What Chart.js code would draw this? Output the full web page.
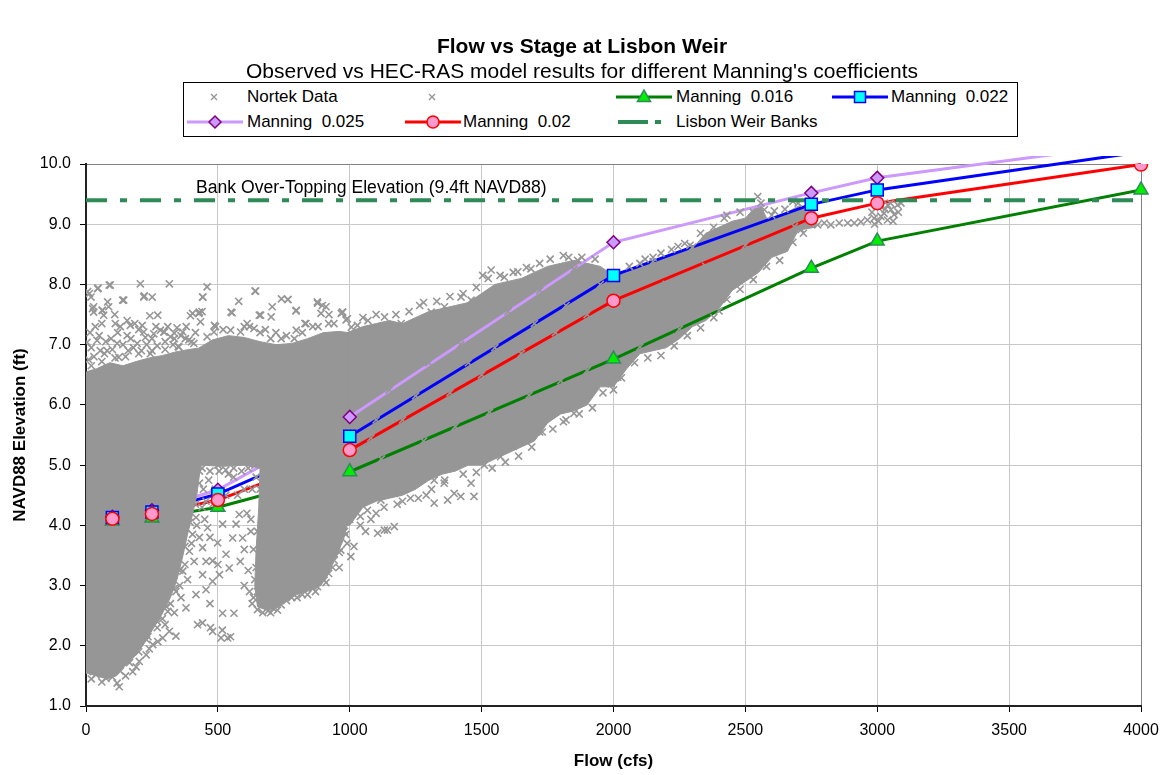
<!DOCTYPE html>
<html lang="en">
<head>
  <meta charset="UTF-8">
  <title>Flow vs Stage at Lisbon Weir</title>
  <style>
    body { margin: 0; background: #fff; font-family: "Liberation Sans", Arial, sans-serif; }
    #wrap { position: relative; width: 1164px; height: 775px; }
    #legend { position: absolute; left: 183px; top: 82px; width: 835px; height: 55px;
              border: 1px solid #000; box-sizing: border-box; background: #fff; }
    #legend svg { position: absolute; left: -1px; top: -1px; }
    #legend span { position: absolute; font-size: 17px; line-height: 20px; white-space: pre; color: #000; }
  </style>
</head>
<body>
<div id="wrap">
  <canvas id="myChart" width="1164" height="775"></canvas>
  <div id="legend"></div>
</div>

<script src="https://cdn.jsdelivr.net/npm/chart.js"></script>

<script>
  // HEC-RAS results, stage (ft NAVD88) at each modelled flow (cfs)
  const flowCfs    = [100, 250, 500, 1000, 2000, 2750, 3000, 4000];
  const manning016 = [4.07, 4.12, 4.30, 4.89, 6.76, 8.27, 8.72, 9.57];
  const manning020 = [4.11, 4.19, 4.42, 5.25, 7.73, 9.10, 9.35, 9.99];
  const manning022 = [4.13, 4.22, 4.52, 5.48, 8.15, 9.33, 9.57, 10.20];
  const manning025 = [4.14, 4.25, 4.59, 5.80, 8.70, 9.52, 9.77, 10.35];

  const bankElevation = 9.4;
  const bankLabel = 'Bank Over-Topping Elevation (9.4ft NAVD88)';
  const bankLabelAt = [417, 9.6];

  // Nortek observations: outlines of the solid parts of the cloud [flow, stage]
  const nortekLeftCore = [
    [2,1.55],[2,6.55],[40,6.6],[90,6.7],[140,6.65],[190,6.72],[240,6.78],[290,6.82],[340,6.88],[390,6.92],[440,6.95],
    [450,6.3],[445,5.6],[435,5.0],[420,4.5],[405,4.2],[385,3.85],[365,3.45],[345,3.1],[320,2.8],[285,2.5],[250,2.25],
    [215,2.0],[180,1.8],[145,1.65],[115,1.5],[80,1.45],[40,1.5],[2,1.55]
  ];
  const nortekMidCore = [
    [430,5.0],[430,6.95],[480,7.08],[540,7.15],[600,7.12],[660,7.05],[720,7.0],[780,7.02],[840,7.1],[900,7.2],[960,7.22],[995,7.2],
    [995,5.0],[990,4.0],[975,3.75],[950,3.5],[920,3.2],[890,3.0],[850,2.92],[800,2.85],[760,2.75],[720,2.62],[680,2.6],[650,2.65],
    [640,3.0],[645,3.6],[655,4.3],[660,4.95],[600,5.0],[520,4.98],[430,5.0]
  ];
  const nortekBandCore = [
    [990,4.0],[990,7.2],[1050,7.3],[1100,7.35],[1150,7.4],[1200,7.35],[1250,7.45],[1300,7.55],[1350,7.6],[1400,7.65],[1450,7.7],
    [1500,7.85],[1550,8.0],[1600,8.05],[1650,8.1],[1700,8.2],[1750,8.3],[1800,8.35],[1850,8.4],[1900,8.35],[1950,8.3],[2000,8.15],
    [2050,8.2],[2100,8.3],[2150,8.4],[2200,8.45],[2250,8.55],[2300,8.6],[2350,8.85],[2400,8.95],[2450,9.05],[2500,9.1],[2540,9.3],
    [2560,9.3],[2580,9.1],[2620,9.1],[2660,9.2],[2700,9.3],[2740,9.3],[2765,9.1],
    [2765,8.95],[2700,8.9],[2660,8.55],[2600,8.45],[2550,8.2],[2500,8.05],[2450,7.9],[2400,7.6],[2350,7.4],[2300,7.3],[2250,7.1],
    [2200,6.95],[2150,6.9],[2100,6.85],[2050,6.6],[2000,6.3],[1950,6.3],[1900,6.0],[1850,5.9],[1800,5.85],[1750,5.7],[1700,5.4],
    [1650,5.3],[1600,5.2],[1550,5.1],[1500,5.0],[1450,5.0],[1400,4.9],[1350,4.85],[1300,4.75],[1250,4.6],[1200,4.5],[1150,4.45],
    [1100,4.4],[1050,4.3],[1000,4.0],[990,4.0]
  ];

  // Nortek observations: individual readings around the edges [flow, stage]
  const nortekLowFringe = [
    [6,7.88],[19,7.79],[46,7.94],[29,7.63],[29,7.54],[61,7.57],[67,7.49],[82,7.71],[86,7.63],[92,7.99],[109,7.5],[111,7.35],
    [143,7.74],[156,7.4],[168,7.32],[206,8.01],[219,7.79],[251,7.79],[242,7.48],[213,7.32],[219,7.21],[316,8.01],[335,7.19],
    [295,7.21],[396,7.48],[428,7.52],[434,7.38],[13,7.85],[44,7.93],[88,7.99],[25,7.6],[63,7.57],[139,7.74],[221,7.81],[272,7.49],
    [297,7.21],[367,7.21],[335,7.1],[404,7.52],[430,7.54],[442,7.79],
    [4,7.04],[42,7.07],[54,6.9],[80,6.9],[118,7.02],[156,7.15],[124,6.79],[194,7.02],[244,6.85],[257,7.18],[282,7.24],[320,7.13],
    [352,6.96],[377,7.1],[409,7.02],[10,6.75],[30,6.8],[70,6.85],[100,6.92],[160,6.9],[180,6.95],[210,6.9],[270,6.98],[300,7.05],
    [230,7.0],[140,7.0],[20,6.95],[330,7.0],[390,7.08],[360,7.15],[95,7.1],[50,7.15],[120,7.2],[250,7.1],[310,7.3],[200,7.25],
    [15,7.2],[35,7.3],[75,7.05],[130,7.3],[170,7.1],[185,7.35],[225,7.12],[265,7.3],[345,7.28],[380,7.3],[415,7.2],[60,7.35],
    [20,6.65],[60,6.72],[110,6.78],[150,6.8],[200,6.85],[250,6.9],[300,6.92],[350,6.97],[400,7.05],
    [6,1.57],[38,1.52],[76,1.46],[126,1.32],[118,1.38],[177,1.57],[202,1.74],[228,1.85],[253,2.02],[272,2.07],[291,2.13],
    [316,2.24],[341,2.16],[310,2.57],[341,2.9],[367,3.24],[392,3.57],[379,3.96],[404,3.85],[417,4.13],[379,2.63],[417,2.85],
    [423,2.35],[442,2.38],[150,1.5],[60,1.4],[95,1.55],[20,1.45],[190,1.65],[240,1.95],[270,2.3],[290,2.45],[320,2.7],[355,3.0],
    [375,3.35],[400,3.7],[420,4.0],[440,4.3],[300,2.35],[335,2.55],[360,2.8],[385,3.1],[410,3.4],[430,3.8],[445,4.6],[230,2.1],
    [440,5.2],[445,5.8],[430,4.7],[415,4.35],[395,4.05],[375,3.65],[355,3.25],[335,2.95],[305,2.65],[270,2.4],[235,2.15],
    [200,1.9],[165,1.72],[130,1.58],[100,1.48]
  ];
  const nortekGapFringe = [
    [455,2.93],[480,3.07],[506,3.18],[442,3.18],[543,3.29],[480,3.41],[531,3.52],[442,3.63],[499,3.71],[556,3.79],[461,3.96],
    [518,4.02],[569,4.02],[594,3.79],[581,4.18],[480,2.24],[512,2.13],[537,2.13],[518,2.54],[472,2.3],[548,2.15],[561,2.54],
    [517,2.26],[455,4.4],[490,4.6],[530,4.5],[560,4.8],[430,4.9],[600,4.6],[610,4.2],[585,3.4],[600,3.0],[620,2.9],[640,5.0],
    [630,4.6],[600,3.6],[615,3.25],[465,4.75],[505,4.9],[540,4.85],[575,4.5],[455,3.4],[500,3.35],[470,3.8],[450,4.1],
    [480,4.35],[625,3.9],[630,2.7],[470,2.7],
    [440,4.95],[470,4.9],[500,5.0],[530,4.92],[560,4.95],[590,4.9],[615,4.95],[645,4.8]
  ];
  const nortekMidFringe = [
    [459,7.96],[443,7.79],[440,7.55],[491,7.3],[554,7.53],[579,7.72],[643,7.89],[662,7.49],[706,7.63],[741,7.76],[766,7.75],
    [797,7.57],[797,7.24],[830,7.35],[877,7.71],[896,7.65],[921,7.5],[972,7.54],[991,7.43],[1029,7.32],[1067,7.24],[1124,7.24],
    [1149,7.29],[459,7.13],[485,7.21],[548,7.24],[586,7.21],[611,7.35],[637,7.27],[487,7.32],[550,7.54],[641,7.89],[657,7.49],
    [702,7.46],[765,7.75],[796,7.56],[834,7.35],[878,7.69],[891,7.52],[910,7.63],[973,7.54],[986,7.41],[1074,7.24],[1119,7.21],
    [680,7.25],[720,7.2],[760,7.15],[860,7.3],[940,7.35],[620,7.3],[700,7.1],[820,7.2],[520,7.25],[600,7.3],[660,7.2],[740,7.1],
    [790,7.1],[880,7.3],[920,7.35],
    [726,2.59],[688,2.73],[878,2.98],[903,3.09],[941,3.42],[966,3.59],[650,2.6],[670,2.55],[710,2.62],[760,2.75],[800,2.8],
    [840,2.85],[920,3.2],[990,3.7],[1004,3.48],[1016,3.65],[941,3.53],[890,3.26],[980,3.9],[1000,4.1],[1106,3.87],[1131,3.92],
    [1169,3.98],[1143,3.92],[1067,4.25],[1118,4.42],[1168,4.53],[1040,4.0],[1080,4.1],[640,3.1],[635,3.6],[625,4.1],[700,2.55],
    [780,2.8],[860,2.95],[960,3.3],[1060,3.9],[1100,4.2],[1200,4.4],
    [650,2.9],[645,3.3],[650,3.9],[660,4.6],[635,2.8],[690,2.58],[740,2.68],[820,2.85],[870,2.9],[910,3.05],[935,3.3],
    [960,3.55],[985,3.85]
  ];
  const nortekBandFringe = [
    [1230,4.45],[1290,4.5],[1320,4.75],[1358,4.7],[1396,4.53],[1320,4.37],[1371,4.42],[1421,4.48],[1471,4.48],[1460,4.7],
    [1510,5.0],[1497,5.45],[1530,5.3],[1572,5.14],[1600,5.5],[1620,5.31],[1650,5.45],[1674,5.64],[1720,5.55],[1787,6.08],
    [1850,5.86],[1820,5.75],[1884,6.24],[1953,6.4],[1991,6.35],[2016,6.46],[1960,6.2],[2000,6.25],
    [968,7.52],[1006,7.29],[1069,7.4],[1132,7.46],[1195,7.35],[1265,7.65],[1309,7.54],[1359,7.63],[1422,7.79],[1460,7.74],
    [1504,8.15],[1536,8.24],[1586,8.12],[1637,8.21],[1687,8.26],[1788,8.26],[1864,8.4],[1830,8.45],[2100,8.35],[2150,8.45],
    [2245,8.63],[2290,8.65],[2380,8.95],[2420,9.1],[2547,9.46],[2559,9.35],[2572,9.24],[2530,9.2],[2600,9.15],[2650,9.25],
    [1050,7.45],[1100,7.5],[1175,7.5],[1225,7.55],[1280,7.7],[1330,7.72],[1380,7.8],[1430,7.85],[1480,7.95],[1525,8.1],
    [1570,8.15],[1620,8.2],[1670,8.28],[1720,8.35],[1760,8.42],[1810,8.48],[1880,8.45],[1930,8.42],[2060,8.3],[2120,8.42],
    [2180,8.52],[2220,8.58],[2270,8.68],[2330,8.85],[2430,9.15],[2480,9.2],[2610,9.22],[2680,9.38],
    [1040,4.15],[1130,4.3],[1180,4.35],[1260,4.45],[1310,4.6],[1360,4.75],[1430,4.85],[1480,4.88],[1540,4.95],[1590,5.05],
    [1640,5.15],[1690,5.3],[1730,5.55],[1770,5.6],[1810,5.72],[1870,5.85],[1920,5.95],[2030,6.45],[2080,6.7],[2130,6.78],
    [2180,6.82],[2230,6.98],[2280,7.15],[2330,7.28],[2380,7.45],[2430,7.75],[2480,7.92],[2530,8.08],[2580,8.3],[2630,8.4],
    [2680,8.7],[2720,8.85]
  ];
  // readings inside the band that sit over the model lines
  const nortekBandInside = [
    [1150,6.25],[1300,6.7],[1420,7.0],[1600,7.55],[1720,7.9],[1850,8.25],
    [1100,5.75],[1250,6.15],[1450,6.7],[1550,6.95],[1700,7.35],[1820,7.65],[1950,8.0],
    [1080,5.45],[1200,5.75],[1380,6.2],[1500,6.5],[1650,6.85],[1780,7.2],[1900,7.5],
    [1120,5.1],[1280,5.4],[1400,5.64],[1530,5.88],[1680,6.16],[1800,6.4],[1900,6.57],
    [2150,8.38],[2300,8.62],[2200,8.0],[2350,8.3],[2500,8.65],[2100,6.96],[2250,7.26],[2400,7.56]
  ];
  const nortekRightFringe = [
    [2686,8.96],[2711,8.91],[2749,9.02],[2774,8.99],[2799,9.02],[2824,8.99],[2856,9.02],[2888,9.02],[2913,9.02],[2938,9.04],
    [2963,9.07],[2988,9.1],[3014,9.13],[3014,9.29],[3026,9.18],[3039,9.07],[3052,9.24],[3064,9.16],[3077,9.32],[3090,9.35],
    [2700,9.35],[2740,9.3],[2760,9.2],[2980,9.2],[3000,9.3],[3050,9.35],[3030,9.25],[3060,9.05],[3005,9.05],[3080,9.2],
    [2990,9.0],[3040,9.32]
  ];

  const gray = '#969696';
  const fontFamily = '"Liberation Sans", Arial, sans-serif';
  Chart.defaults.font.family = fontFamily;
  Chart.defaults.color = '#000';

  const style016 = { line: '#008000', fill: '#00ee00', edge: '#2e8b57', point: 'triangle', r: 8 };
  const style020 = { line: '#ff0000', fill: '#ff99cc', edge: '#ff0000', point: 'circle', r: 6.5 };
  const style022 = { line: '#0000ff', fill: '#00ffff', edge: '#0000ff', point: 'rect', r: 8.5 };
  const style025 = { line: '#cc99ff', fill: '#cc99ff', edge: '#800080', point: 'rectRot', r: 6.5 };
  const bankColor = '#2e8b57';

  const toXY = (pairs) => pairs.map(([x, y]) => ({ x, y }));
  const modelPts = (ys) => flowCfs.map((x, i) => ({ x, y: ys[i] }));

  function cloud(pairs, order) {
    return { type: 'line', data: toXY(pairs), borderColor: gray, backgroundColor: gray, borderWidth: 1,
             pointRadius: 0, fill: 'shape', tension: 0, order };
  }
  function crosses(pairs, order) {
    return { type: 'scatter', data: toXY(pairs), pointStyle: 'crossRot', pointRadius: 5,
             borderColor: gray, borderWidth: 1.6, order };
  }
  function modelLine(ys, s, order) {
    return { type: 'line', data: modelPts(ys), borderColor: s.line, borderWidth: 3, pointRadius: 0, fill: false,
             tension: 0, clip: { left: 0, top: 8, right: 0, bottom: 0 }, order };
  }
  function modelMarks(ys, s, order) {
    return { type: 'scatter', data: modelPts(ys), pointStyle: s.point, pointRadius: s.r,
             backgroundColor: s.fill, borderColor: s.edge, borderWidth: 1.5,
             clip: { left: false, top: 0, right: false, bottom: false }, order };
  }

  const labelPlugin = {
    id: 'bankLabel',
    afterDatasetsDraw(chart) {
      const { ctx, scales: { x, y } } = chart;
      ctx.save();
      ctx.font = '17.6px ' + fontFamily;
      ctx.fillStyle = '#000';
      ctx.textBaseline = 'middle';
      ctx.fillText(bankLabel, x.getPixelForValue(bankLabelAt[0]), y.getPixelForValue(bankLabelAt[1]));
      ctx.restore();
    }
  };

  const ctx = document.getElementById('myChart').getContext('2d');
  new Chart(ctx, {
    type: 'scatter',
    data: {
      datasets: [
        cloud(nortekBandCore, 20),
        modelLine(manning025, style025, 18),
        modelLine(manning022, style022, 17),
        modelLine(manning020, style020, 16),
        modelLine(manning016, style016, 15),
        cloud(nortekLeftCore, 12),
        cloud(nortekMidCore, 12),
        crosses(nortekLowFringe, 10),
        crosses(nortekGapFringe, 10),
        crosses(nortekMidFringe, 10),
        crosses(nortekBandFringe, 10),
        crosses(nortekBandInside, 10),
        crosses(nortekRightFringe, 10),
        { type: 'line', data: [{ x: 0, y: bankElevation }, { x: 4000, y: bankElevation }], borderColor: bankColor,
          borderWidth: 4, borderDash: [21, 13, 7, 13], pointRadius: 0, fill: false, order: 6 },
        modelMarks(manning025, style025, 4),
        modelMarks(manning016, style016, 3),
        modelMarks(manning022, style022, 2),
        modelMarks(manning020, style020, 1)
      ]
    },
    plugins: [labelPlugin],
    options: {
      responsive: false,
      animation: false,
      events: [],
      layout: { padding: 0 },
      plugins: {
        legend: { display: false },
        tooltip: { enabled: false },
        title: { display: true, text: 'Flow vs Stage at Lisbon Weir', color: '#000',
                 font: { size: 21, weight: 'bold' }, padding: { top: 34.4, bottom: 0 } },
        subtitle: { display: true, text: "Observed vs HEC-RAS model results for different Manning's coefficients",
                    color: '#000', font: { size: 21 }, padding: { top: 0, bottom: 79.2 } }
      },
      scales: {
        x: {
          type: 'linear', min: 0, max: 4000,
          ticks: { stepSize: 500, color: '#000', font: { size: 16 }, padding: 9, maxRotation: 0,
                   callback: (v) => String(v) },
          grid: { color: (c) => (c.tick && c.tick.value === 4000 ? '#808080' : '#c8c8c8'),
                  tickColor: '#000', tickLength: 6, lineWidth: 1 },
          border: { color: '#222', width: 2 },
          title: { display: true, text: 'Flow (cfs)', color: '#000', font: { size: 17, weight: 'bold' },
                   padding: { top: 0, bottom: 3 } },
          afterFit: (s) => { s.height = 69; s.paddingRight = 0; }
        },
        y: {
          type: 'linear', min: 1, max: 10,
          ticks: { stepSize: 1, color: '#000', font: { size: 16 }, padding: 9, callback: (v) => v.toFixed(1) },
          grid: { color: (c) => (c.tick && c.tick.value === 10 ? '#808080' : '#c8c8c8'),
                  tickColor: '#000', tickLength: 6, lineWidth: 1 },
          border: { color: '#222', width: 2 },
          title: { display: true, text: 'NAVD88 Elevation (ft)', color: '#000', font: { size: 17, weight: 'bold' },
                   padding: { top: 10, bottom: 0 } },
          afterFit: (s) => { s.width = 86; }
        },
        // empty strip on the right so the titles stay centred on the page
        yRight: {
          position: 'right', display: true,
          ticks: { display: false }, grid: { display: false }, border: { display: false },
          afterFit: (s) => { s.width = 23; }
        }
      }
    }
  });

  // legend in the same grid layout as the original
  const legendItems = [
    { text: 'Nortek Data',       sym: 'cross',  cx: 31,  tx: 64,  row: 15 },
    { text: '',                  sym: 'cross',  cx: 249, tx: 280, row: 15 },
    { text: 'Manning  0.016',    sym: style016, cx: 461, tx: 493, row: 15 },
    { text: 'Manning  0.022',    sym: style022, cx: 677, tx: 708, row: 15 },
    { text: 'Manning  0.025',    sym: style025, cx: 32,  tx: 64,  row: 40 },
    { text: 'Manning  0.02',     sym: style020, cx: 250, tx: 280, row: 40 },
    { text: 'Lisbon Weir Banks', sym: 'bank',   cx: 457, tx: 493, row: 40 }
  ];

  function symbolSvg(sym, cx, cy) {
    if (sym === 'cross') {
      return `<path d="M${cx - 3} ${cy - 3}L${cx + 3} ${cy + 3}M${cx + 3} ${cy - 3}L${cx - 3} ${cy + 3}" stroke="${gray}" stroke-width="1.4"/>`;
    }
    if (sym === 'bank') {
      return `<path d="M${cx - 22} ${cy}H${cx + 8}M${cx + 15} ${cy}H${cx + 21}" stroke="${bankColor}" stroke-width="4"/>`;
    }
    let out = `<path d="M${cx - 28} ${cy}H${cx + 28}" stroke="${sym.line}" stroke-width="3"/>`;
    const a = `fill="${sym.fill}" stroke="${sym.edge}" stroke-width="1.5"`;
    if (sym.point === 'triangle') out += `<polygon points="${cx},${cy - 7} ${cx + 6.5},${cy + 4.5} ${cx - 6.5},${cy + 4.5}" ${a}/>`;
    if (sym.point === 'circle') out += `<circle cx="${cx}" cy="${cy}" r="6" ${a}/>`;
    if (sym.point === 'rect') out += `<rect x="${cx - 5.5}" y="${cy - 5.5}" width="11" height="11" ${a}/>`;
    if (sym.point === 'rectRot') out += `<polygon points="${cx},${cy - 6} ${cx + 6},${cy} ${cx},${cy + 6} ${cx - 6},${cy}" ${a}/>`;
    return out;
  }

  const legendEl = document.getElementById('legend');
  let svg = '<svg width="835" height="55" xmlns="http://www.w3.org/2000/svg">';
  let spans = '';
  legendItems.forEach((item) => {
    svg += symbolSvg(item.sym, item.cx, item.row);
    if (item.text) spans += `<span style="left:${item.tx - 1}px;top:${item.row - 11}px">${item.text}</span>`;
  });
  legendEl.innerHTML = svg + '</svg>' + spans;
</script>
</body>
</html>
